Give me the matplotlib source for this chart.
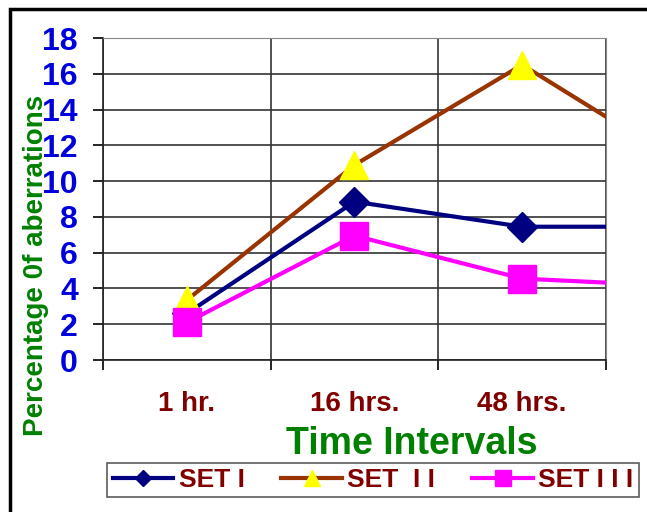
import matplotlib.pyplot as plt
from matplotlib.patches import Rectangle

plt.rcParams['font.family'] = ['Liberation Sans', 'DejaVu Sans']

intervals = ["1 hr.", "16 hrs.", "48 hrs.", "72 hrs."]
set1 = [2.6, 8.85, 7.45, 7.45]
set2 = [3.35, 10.9, 16.5, 10.7]
set3 = [2.1, 6.95, 4.55, 4.1]
labels = ["SET I", "SET  I I", "SET I I I"]

fig = plt.figure(figsize=(6.47, 5.12), dpi=100)
ax = fig.add_axes([103/647, 1 - 360/512, (606 - 103)/647, (360 - 38)/512])

x = list(range(len(intervals)))
ax.plot(x, set1, color="#000080", lw=3, marker="D", ms=15, mfc="#000080",
        mec="#000080", label=labels[0], zorder=3)
ax.plot(x, set2, color="#993300", lw=3, marker="^", ms=20, mfc="#FFFF00",
        mec="#FFFF00", label=labels[1], zorder=4)
ax.plot(x, set3, color="#FF00FF", lw=3, marker="s", ms=20, mfc="#FF00FF",
        mec="#FF00FF", label=labels[2], zorder=5)

ax.set_xlim(-0.5, 2.5)
ax.set_ylim(0, 18)
ax.set_yticks(range(0, 19, 2))
ax.set_xticks([-0.5, 0.5, 1.5, 2.5])
ax.set_xticklabels([])
ax.set_xticks(x[:3], intervals[:3], minor=True)
ax.tick_params(axis="x", which="major", direction="out", length=7, width=1.2)
ax.tick_params(axis="x", which="minor", length=0, pad=22,
               labelsize=20, labelcolor="#800000")
ax.tick_params(axis="y", direction="out", length=7, width=1.2, pad=11,
               labelsize=23, labelcolor="#0000DD")
for lab in ax.get_xticklabels(minor=True) + ax.get_yticklabels():
    lab.set_fontweight("bold")

ax.grid(True, which="major", color="#333333", lw=1.2)
for s in ["top", "right"]:
    ax.spines[s].set_color("#888888")
for s in ["left", "bottom"]:
    ax.spines[s].set_color("#222222")
    ax.spines[s].set_linewidth(1.2)

fig.text(412/647, 1 - 444/512, "Time Intervals", color="#008000",
         fontsize=27, fontweight="bold", ha="center", va="center")
fig.text(36/647, 1 - 265/512, "Percentage 0f aberrations", color="#008000",
         fontsize=20, fontweight="bold", rotation=90, ha="center", va="center")

leg = fig.legend(loc="center", bbox_to_anchor=(373/647, 1 - 480/512), ncol=3,
                 frameon=True, fancybox=False, edgecolor="#333333",
                 handlelength=2.3, handletextpad=0.2, columnspacing=1.4,
                 borderpad=0.2, borderaxespad=0, markerscale=0.55,
                 prop={"weight": "bold", "size": 19})
leg.get_frame().set_linewidth(1.2)
for t in leg.get_texts():
    t.set_color("#800000")

fig.patches.append(Rectangle((10/647, -0.1), 1.2, 1.1 - 9/512,
                             transform=fig.transFigure, fill=False,
                             edgecolor="black", lw=2.5))

fig.savefig("out.png", dpi=100)
